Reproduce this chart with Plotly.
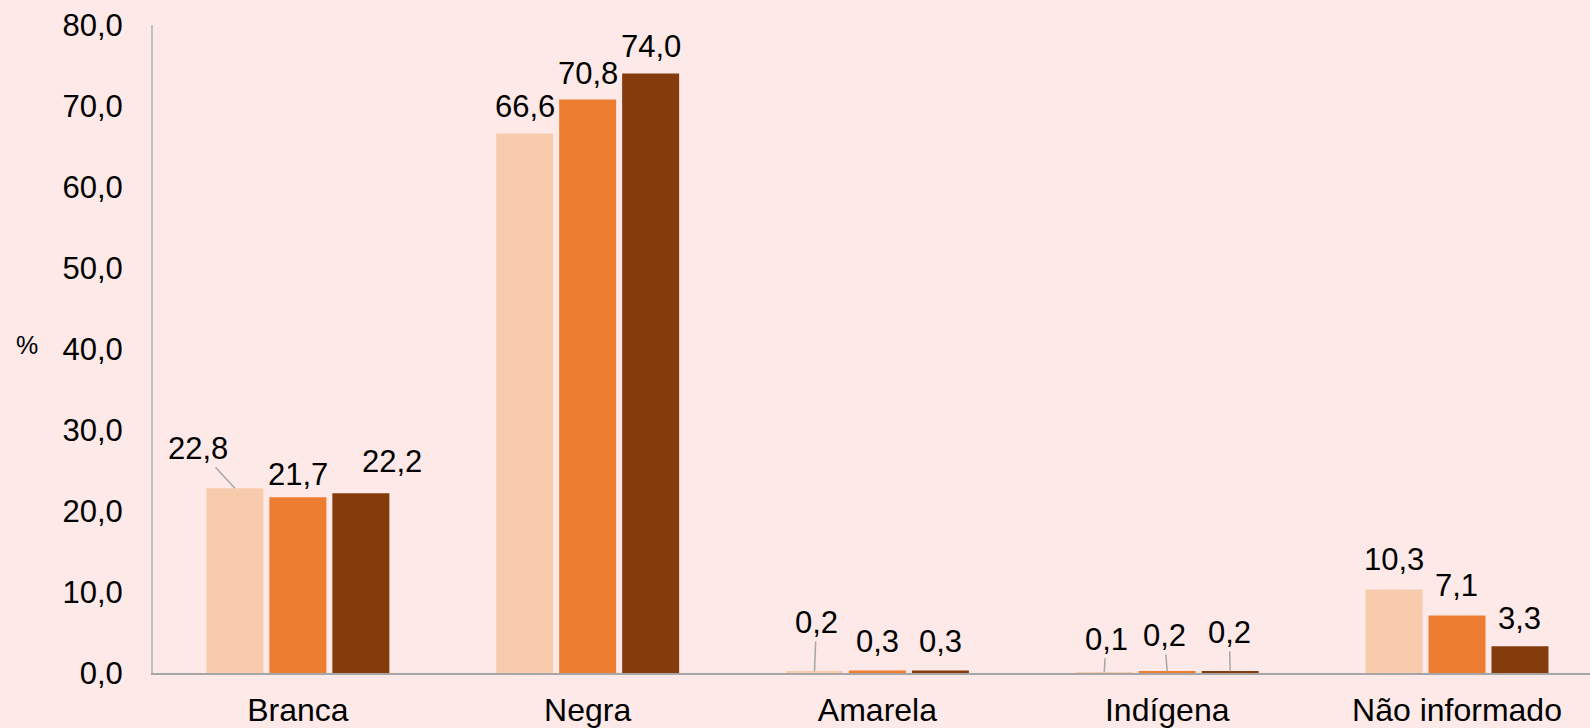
import plotly.graph_objects as go

categories = ["Branca", "Negra", "Amarela", "Indígena", "Não informado"]
series_names = ["Série 1", "Série 2", "Série 3"]
values_s1 = [22.8, 66.6, 0.2, 0.1, 10.3]
values_s2 = [21.7, 70.8, 0.3, 0.2, 7.1]
values_s3 = [22.2, 74.0, 0.3, 0.2, 3.3]
y_ticks = [0, 10, 20, 30, 40, 50, 60, 70, 80]

colors = ["#f8cbad", "#ed7d31", "#843c0c"]
series = [values_s1, values_s2, values_s3]

# label placement styles (pixel offsets of label centre from bar top), per series/category
# (dx, dy, leader)
label_style = [
    [(-37, -40, True), (0, -27, False), (2, -49, True), (2, -33, True), (0, -30, False)],
    [(0, -23, False), (0, -26, False), (0, -29, False), (-3, -36, True), (0, -30, False)],
    [(31, -32, False), (0, -27, False), (0, -29, False), (-1, -39, True), (0, -28, False)],
]

FONT = "Arial, Liberation Sans, sans-serif"
FS = 31
BG = "#fde9e7"
BARGAP = 0.348
slot = (1 - BARGAP) / 3

fig = go.Figure()
for j, (name, vals) in enumerate(zip(series_names, series)):
    fig.add_trace(go.Bar(
        x=list(range(len(categories))), y=vals, name=name,
        marker=dict(color=colors[j], line=dict(width=0)),
        hoverinfo="x+y",
    ))

annotations = []
for j, vals in enumerate(series):
    for i, v in enumerate(vals):
        dx, dy, leader = label_style[j][i]
        txt = f"{v:.1f}".replace(".", ",")
        xpos = i + (j - 1) * slot
        if leader:
            annotations.append(dict(
                x=xpos, y=v, xref="x", yref="y", text=txt, showarrow=True,
                ax=dx, ay=dy, arrowhead=0, arrowwidth=1.5, arrowcolor="#a6a6a6",
                standoff=0, font=dict(family=FONT, size=FS, color="#000000"),
            ))
        else:
            annotations.append(dict(
                x=xpos, y=v, xref="x", yref="y", text=txt, showarrow=False,
                xshift=dx, yshift=-dy,
                font=dict(family=FONT, size=FS, color="#000000"),
            ))

annotations.append(dict(
    x=-0.088, y=0.506, xref="paper", yref="paper", text="%", showarrow=False,
    xanchor="center", yanchor="middle",
    font=dict(family=FONT, size=25, color="#000000"),
))

fig.update_layout(
    width=1590, height=728,
    paper_bgcolor=BG, plot_bgcolor=BG,
    margin=dict(l=153, r=0, t=25, b=55),
    barmode="group", bargap=BARGAP, bargroupgap=0.095,
    showlegend=False,
    separators=",.",
    font=dict(family=FONT, size=FS, color="#000000"),
    annotations=annotations,
)

fig.update_xaxes(
    tickmode="array", tickvals=list(range(len(categories))), ticktext=categories,
    range=[-0.5, 4.459], showgrid=False, zeroline=False,
    showline=True, linecolor="#a6a6a6", linewidth=2, ticks="",
    ticklabelstandoff=8,
    tickfont=dict(family=FONT, size=32, color="#000000"),
)
fig.update_yaxes(
    range=[0, 80], tickvals=y_ticks, tickformat=".1f", showgrid=False, zeroline=False,
    showline=True, linecolor="#bfbfbf", linewidth=2, ticks="",
    ticklabelstandoff=22,
    tickfont=dict(family=FONT, size=FS, color="#000000"),
)

fig.write_html(
    "out.html",
    config={"displayModeBar": False},
    post_script="document.body.style.margin='0';document.body.style.background='" + BG + "';",
)
